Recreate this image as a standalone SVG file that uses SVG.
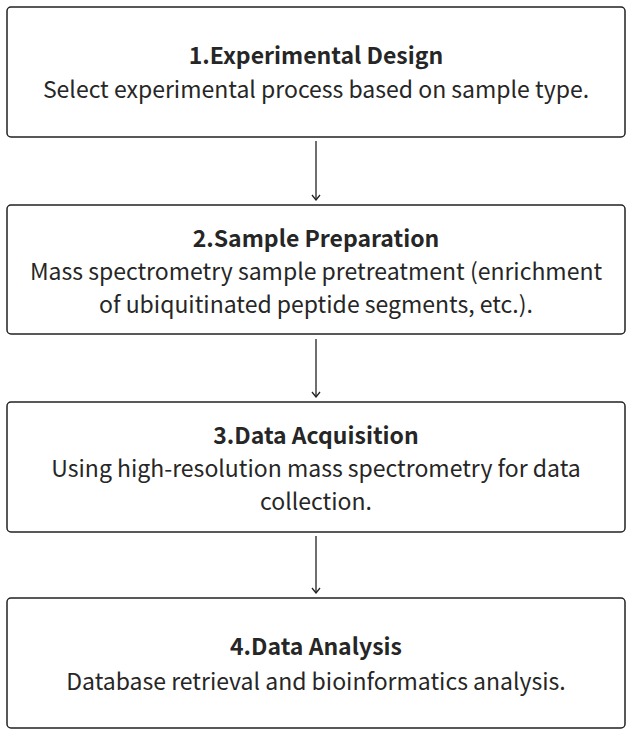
<svg xmlns="http://www.w3.org/2000/svg" width="636" height="736" viewBox="0 0 636 736">
<style>
.box{fill:#fff;stroke:#222;stroke-width:1.5}
.t{font-family:"Noto Sans CJK SC","Noto Sans",sans-serif;font-size:23px;fill:#262626;text-anchor:middle}
.b{font-weight:bold}
.c{stroke:#222;stroke-width:1.3;fill:none}
</style>
<defs>
<marker id="ah" viewBox="0 0 10 10" refX="9" refY="5" markerWidth="10" markerHeight="10" markerUnits="userSpaceOnUse" orient="auto">
<path d="M4,1 L9,5 L4,9" fill="none" stroke="#222" stroke-width="1.3"/>
</marker>
</defs>
<rect width="636" height="736" fill="#fff"/>
<g id="connectors">
<line class="c" x1="316" y1="141" x2="316" y2="200" marker-end="url(#ah)"/>
<line class="c" x1="316" y1="339" x2="316" y2="397" marker-end="url(#ah)"/>
<line class="c" x1="316" y1="536" x2="316" y2="593" marker-end="url(#ah)"/>
</g>
<g id="n1">
<rect class="box" x="7" y="7" width="618" height="130" rx="4"/>
<text class="t b" x="316" y="64">1.Experimental Design</text>
<text class="t" x="316" y="98">Select experimental process based on sample type.</text>
</g>
<g id="n2">
<rect class="box" x="7" y="205" width="618" height="129" rx="4"/>
<text class="t b" x="316" y="247">2.Sample Preparation</text>
<text class="t" x="316" y="280">Mass spectrometry sample pretreatment (enrichment</text>
<text class="t" x="316" y="313">of ubiquitinated peptide segments, etc.).</text>
</g>
<g id="n3">
<rect class="box" x="7" y="402" width="618" height="130" rx="4"/>
<text class="t b" x="316" y="444">3.Data Acquisition</text>
<text class="t" x="316" y="477">Using high-resolution mass spectrometry for data</text>
<text class="t" x="316" y="510">collection.</text>
</g>
<g id="n4">
<rect class="box" x="7" y="598" width="618" height="130" rx="4"/>
<text class="t b" x="316" y="655">4.Data Analysis</text>
<text class="t" x="316" y="690">Database retrieval and bioinformatics analysis.</text>
</g>
</svg>
